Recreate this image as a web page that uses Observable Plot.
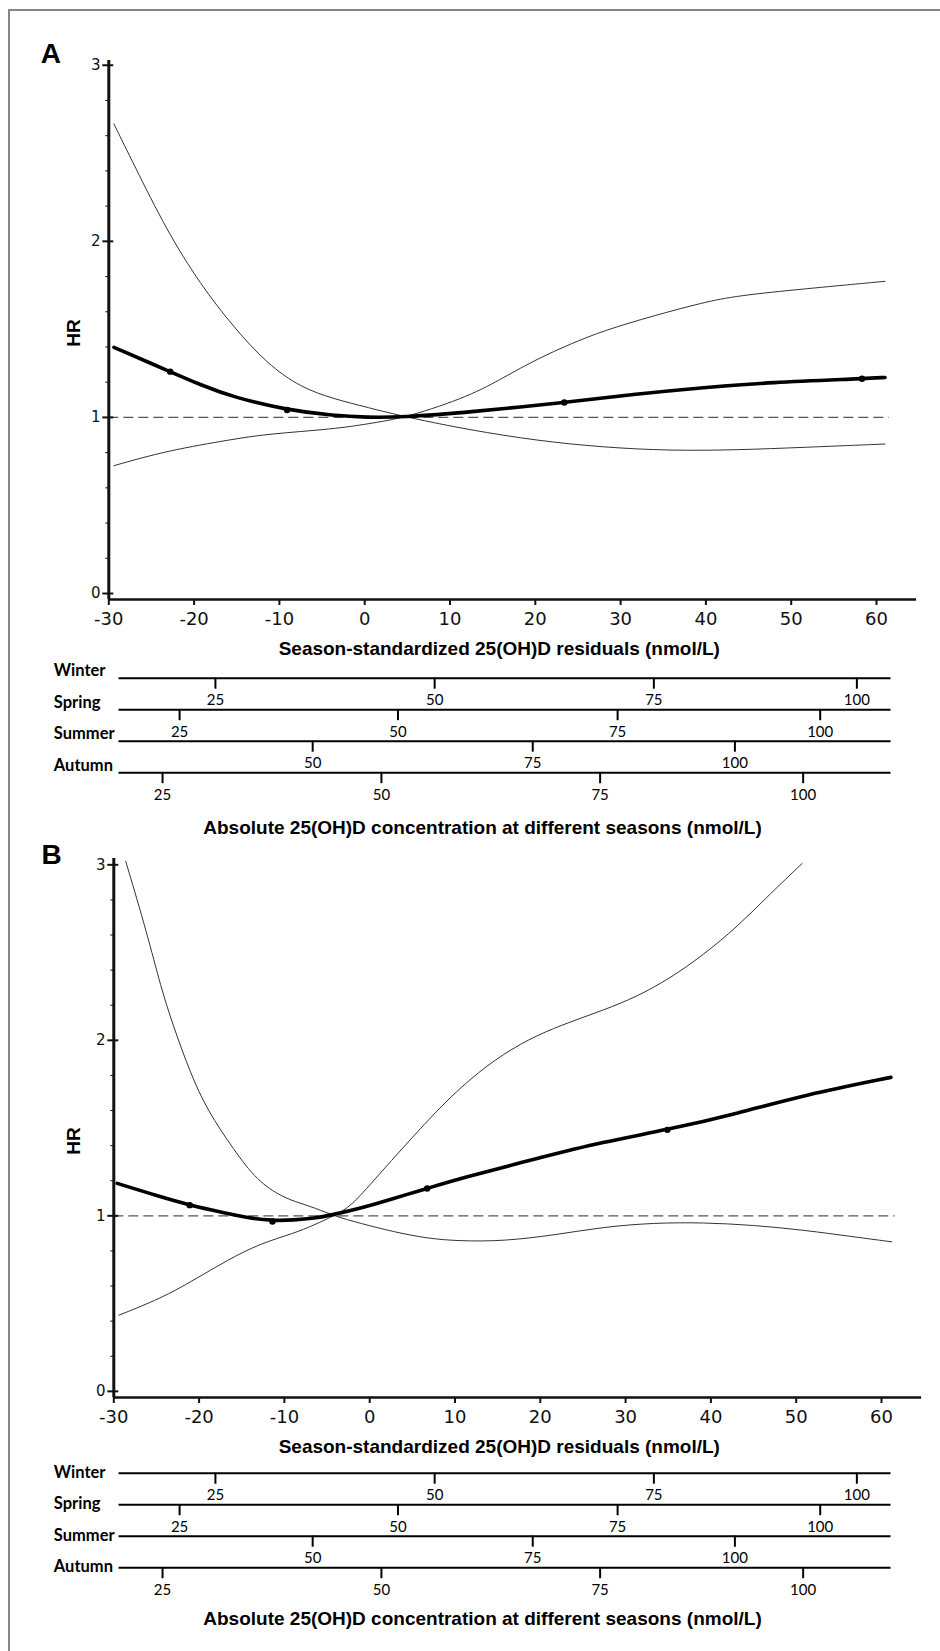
<!DOCTYPE html>
<html><head><meta charset="utf-8">
<script src="https://cdn.jsdelivr.net/npm/d3@7"></script>
<script src="https://cdn.jsdelivr.net/npm/@observablehq/plot@0.6"></script>
<style>
html,body{margin:0;padding:0;background:#fff;}
#page{position:relative;width:940px;height:1651px;overflow:hidden;background:#fff;}
#page svg{position:absolute;display:block;}
.frame{position:absolute;left:7.5px;top:8.5px;width:1000px;height:2000px;border-left:2.5px solid #858585;border-top:2.5px solid #858585;}
.t{position:absolute;transform:translate(-50%,-50%);white-space:nowrap;font-family:"Liberation Sans",Arial,sans-serif;font-weight:bold;font-size:19px;line-height:1;color:#000;}
.rot{transform:translate(-50%,-50%) rotate(-90deg);}
.panel{font-size:28px;}
</style></head><body><div id="page"><div class="frame"></div></div>
<script>
// ---------- DATA ----------
const xTicks = [-30, -20, -10, 0, 10, 20, 30, 40, 50, 60];
const yTicks = [0, 1, 2, 3];
const yMinorTicks = [0.2, 0.4, 0.6, 0.8, 1.2, 1.4, 1.6, 1.8, 2.2, 2.4, 2.6, 2.8];
const seasons = ["Winter", "Spring", "Summer", "Autumn"];
// absolute 25(OH)D values and their matching season-standardized residuals
const absWinter = [25, 50, 75, 100];  const resWinter = [-17.5, 8.2, 33.9, 57.7];
const absSpring = [25, 50, 75, 100];  const resSpring = [-21.7, 3.9, 29.65, 53.4];
const absSummer = [50, 75, 100];      const resSummer = [-6.1, 19.7, 43.4];
const absAutumn = [25, 50, 75, 100];  const resAutumn = [-23.7, 1.96, 27.6, 51.4];

// Panel A: [residual, HR]
const hrA = [[-29.4,1.398],[-22.8,1.26],[-19.25,1.185],[-15.35,1.114],[-9.1,1.042],[-3.6,1.01],[0.3,1.0],[4.2,1.0],[12.4,1.03],[23.4,1.085],[31.9,1.133],[39.7,1.17],[47.5,1.199],[58.3,1.22],[61,1.227]];
const dotsA = [[-22.8,1.26],[-9.1,1.042],[23.4,1.085],[58.3,1.22]];
const ciA1 = [[-29.4,2.667],[-27.1,2.44],[-23.2,2.061],[-19.3,1.758],[-15.35,1.511],[-11.4,1.303],[-7.5,1.17],[-3.6,1.105],[0.3,1.057],[5,1.0],[12.4,0.928],[20.2,0.868],[28,0.83],[35.8,0.811],[43.6,0.815],[51.5,0.83],[61,0.849]];
const ciA2 = [[-29.4,0.726],[-23.2,0.811],[-15.35,0.877],[-11.4,0.906],[-3.6,0.934],[0.3,0.963],[5,1.0],[12.4,1.123],[16.3,1.227],[20.2,1.332],[24.1,1.417],[28,1.493],[33.9,1.578],[39.7,1.653],[43.6,1.691],[51.5,1.73],[61,1.773]];

// Panel B: [residual, HR]
const hrB = [[-29.6,1.185],[-24.5,1.108],[-21.1,1.061],[-16.7,1.014],[-14.4,0.989],[-11.4,0.972],[-8.9,0.976],[-6.55,0.985],[-4.2,1.008],[-1.1,1.042],[2.8,1.099],[6.74,1.156],[10.6,1.213],[19.6,1.327],[27.4,1.422],[34.9,1.49],[43.1,1.583],[50.9,1.688],[61.1,1.789]];
const dotsB = [[-21.1,1.061],[-11.4,0.968],[6.74,1.156],[34.9,1.49]];
const ciB1 = [[-28.6,3.02],[-26.1,2.61],[-24.5,2.305],[-23.0,2.077],[-21.0,1.811],[-19.05,1.602],[-15.9,1.374],[-13.2,1.2],[-10.3,1.108],[-8.1,1.071],[-6.4,1.045],[-4.2,1.0],[-1.1,0.957],[2.8,0.909],[6.74,0.871],[10.6,0.856],[15.7,0.856],[21.6,0.89],[27.4,0.937],[33.3,0.96],[39.1,0.962],[45.0,0.947],[50.9,0.919],[56.8,0.88],[61.2,0.852]];
const ciB2 = [[-29.4,0.434],[-24.5,0.529],[-20.6,0.634],[-16.7,0.748],[-12.8,0.843],[-8.9,0.9],[-6.55,0.947],[-4.2,1.0],[-2.25,1.051],[0.5,1.203],[7.6,1.59],[11.8,1.783],[15.7,1.925],[19.6,2.03],[23.5,2.105],[27.4,2.172],[31.3,2.248],[35.2,2.353],[39.1,2.486],[43.1,2.647],[47.0,2.837],[50.7,3.008]];

// ---------- LAYOUT ----------
const xDomain = [-30, 64.7];
const pxPerUnit = 8.53;
const W = 940, H = 632;
const page = document.getElementById("page");
const fx = d => d[0], fy = d => d[1];
const plain = d => String(d);

function mainPanel({hr, dots, ci1, ci2, marginLeft, yDomain, top}) {
  const plotRight = marginLeft + (xDomain[1] - xDomain[0]) * pxPerUnit;
  const refEnd = d3.max(hr, fx) + 0.5;
  const svg = Plot.plot({
    width: W, height: H,
    marginLeft, marginRight: W - plotRight, marginTop: 60, marginBottom: H - 599,
    x: {domain: xDomain, label: null},
    y: {domain: yDomain, label: null},
    style: {fontFamily: "'DejaVu Sans', Verdana, sans-serif", color: "#111", background: "transparent", overflow: "visible"},
    marks: [
      Plot.ruleY([1], {x1: xDomain[0], x2: refEnd, stroke: "#555", strokeWidth: 1.2, strokeDasharray: "10,5"}),
      Plot.line(ci1, {x: fx, y: fy, stroke: "#333", strokeWidth: 1, curve: "basis"}),
      Plot.line(ci2, {x: fx, y: fy, stroke: "#333", strokeWidth: 1, curve: "basis"}),
      Plot.line(hr, {x: fx, y: fy, stroke: "#000", strokeWidth: 3.6, curve: "basis"}),
      Plot.dot(dots, {x: fx, y: fy, r: 3.2, fill: "#000"}),
      Plot.axisY({ticks: yMinorTicks, tickSize: 3, tickFormat: () => "", strokeWidth: 1}),
      Plot.axisY({ticks: yTicks, tickFormat: plain, tickSize: 11, dx: 5, tickPadding: 2.3, fontSize: 15, strokeWidth: 2, label: null}),
      Plot.axisX({ticks: xTicks, tickFormat: plain, tickSize: 6, tickPadding: 7, fontSize: 18, strokeWidth: 2, label: null}),
      Plot.ruleX([xDomain[0]], {stroke: "#111", strokeWidth: 3}),
      Plot.ruleY([yDomain[0]], {stroke: "#111", strokeWidth: 2.6})
    ]
  });
  svg.style.left = "0px"; svg.style.top = top + "px";
  page.appendChild(svg);
}

function seasonPanel({top, labelDy}) {
  const rowPx = 31.5, h = 150, mTop = 22.7, mLeft = 108.3;
  const rows = seasons.map((s, i) => ({s, i}));
  const byRow = [[absWinter, resWinter], [absSpring, resSpring], [absSummer, resSummer], [absAutumn, resAutumn]];
  const ticks = byRow.flatMap(([a, r], i) => a.map((v, j) => ({i, abs: String(v), r: r[j]})));
  const tickRows = 11 / rowPx;
  const seasonAxisExtent = [-28.8, 61.7];
  const svg = Plot.plot({
    width: W, height: h,
    marginLeft: mLeft, marginRight: W - (mLeft + (xDomain[1] - xDomain[0]) * pxPerUnit),
    marginTop: mTop, marginBottom: h - (mTop + 3 * rowPx),
    x: {domain: xDomain, axis: null},
    y: {domain: [0, 3], reverse: true, axis: null},
    style: {background: "transparent", overflow: "visible", color: "#000"},
    marks: [
      Plot.ruleY(rows, {y: "i", x1: seasonAxisExtent[0], x2: seasonAxisExtent[1], stroke: "#000", strokeWidth: 2}),
      Plot.ruleX(ticks, {x: "r", y1: "i", y2: d => d.i + tickRows, stroke: "#000", strokeWidth: 2}),
      Plot.text(ticks, {x: "r", y: "i", text: "abs", dy: 22, fontFamily: "Lato, 'Open Sans', sans-serif", fontSize: 15, fill: "#000"}),
      Plot.text(rows, {frameAnchor: "left", y: "i", text: "s", textAnchor: "start", dx: 53.3 - mLeft, dy: labelDy, fontFamily: "Lato, 'Open Sans', sans-serif", fontWeight: "bold", fontSize: 16.5, fill: "#000"})
    ]
  });
  svg.style.left = "0px"; svg.style.top = top + "px";
  page.appendChild(svg);
}

function label(text, x, y, cls = "") {
  const d = document.createElement("div");
  d.className = "t " + cls;
  d.textContent = text;
  d.style.left = x + "px"; d.style.top = y + "px";
  page.appendChild(d);
}

// Panel A
mainPanel({hr: hrA, dots: dotsA, ci1: ciA1, ci2: ciA2, marginLeft: 108.3, yDomain: [-0.034, 3.027], top: 0});
seasonPanel({top: 655, labelDy: -7});
// Panel B
mainPanel({hr: hrB, dots: dotsB, ci1: ciB1, ci2: ciB2, marginLeft: 113.3, yDomain: [-0.035, 3.036], top: 798.3});
seasonPanel({top: 1450.3, labelDy: -0.5});

const xTitle = "Season-standardized 25(OH)D residuals (nmol/L)";
const caption = "Absolute 25(OH)D concentration at different seasons (nmol/L)";
label("A", 50.8, 53.5, "panel");
label("HR", 73.3, 333.3, "rot");
label(xTitle, 499.3, 648);
label(caption, 482.5, 827);
label("B", 51.7, 855, "panel");
label("HR", 73.3, 1141, "rot");
label(xTitle, 499.3, 1446);
label(caption, 482.5, 1617.5);
</script></body></html>
